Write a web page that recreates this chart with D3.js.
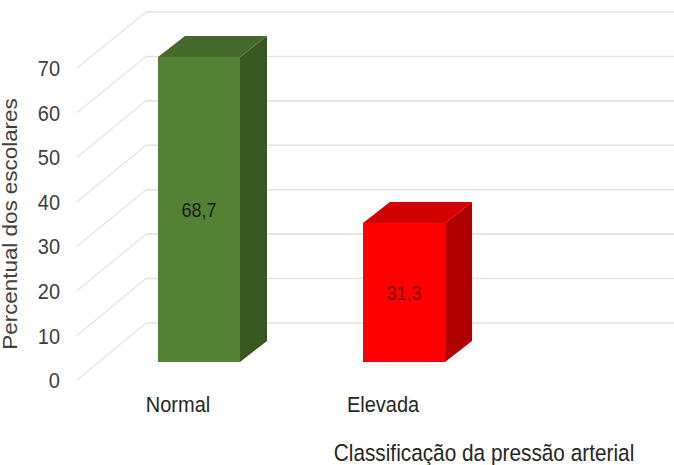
<!DOCTYPE html>
<html>
<head>
<meta charset="utf-8">
<script src="https://cdnjs.cloudflare.com/ajax/libs/d3/7.8.5/d3.min.js"></script>
<style>
	body { margin: 0; background: #fff; }
	svg { display: block; }
	text { font-family: "Liberation Sans", Arial, sans-serif; }
</style>
</head>
<body>
<svg class="chart"></svg>
<script>
/* 3D bar chart: classificação da pressão arterial */

var categories = ["Normal", "Elevada"];
var values = [68.7, 31.3];
var valueLabels = ["68,7", "31,3"];
var tickValues = [0, 10, 20, 30, 40, 50, 60, 70];
var xTitle = "Classificação da pressão arterial";
var yTitle = "Percentual dos escolares";

function drawChart(areaID) {

	var width = 674,
		height = 465;

	var colors = {
		Normal: {front: "#548235", top: "#45692c", side: "#385723", text: "#1a1a1a"},
		Elevada: {front: "#ff0000", top: "#d20000", side: "#b00000", text: "#8a0000"}
	};

	// text in the picture is a bit stretched vertically
	var stretch = 1.12;

	// scales: front edge of the side wall, back wall, front plane of bars
	var yFront = d3.scaleLinear().domain([0, 70]).range([380, 68]);
	var yBack = d3.scaleLinear().domain([0, 70]).range([323, 12]);
	var yBar = d3.scaleLinear().domain([0, 70]).range([362, 51.2]);

	var x = d3.scaleBand()
		.domain(categories)
		.range([55.5, 547.5])
		.paddingInner(0.6)
		.paddingOuter(0.5);

	var wallLeft = 146, wallFront = 77;
	var depth = {dx: 27, dy: -21};

	var svg = d3.select("." + areaID)
		.attr("width", width)
		.attr("height", height);

	// Back wall gridlines
	svg.append("g")
		.selectAll("line")
		.data(tickValues)
	  .enter().append("line")
		.attr("x1", wallLeft)
		.attr("x2", width)
		.attr("y1", function(d) { return yBack(d); })
		.attr("y2", function(d) { return yBack(d); })
		.attr("stroke", "#e2e2e2")
		.attr("stroke-width", 1.6);

	// Side wall gridlines
	svg.append("g")
		.selectAll("line")
		.data(tickValues)
	  .enter().append("line")
		.attr("x1", wallFront)
		.attr("x2", wallLeft)
		.attr("y1", function(d) { return yFront(d); })
		.attr("y2", function(d) { return yBack(d); })
		.attr("stroke", "#e4e4e4")
		.attr("stroke-width", 1.3);

	// Tick labels
	svg.append("g")
		.selectAll("text")
		.data(tickValues)
	  .enter().append("text")
		.attr("transform", function(d) {
			return "translate(60," + yFront(d) + ") scale(1," + stretch + ")";
		})
		.attr("dy", "0.36em")
		.attr("text-anchor", "end")
		.attr("font-size", 20)
		.attr("fill", "#404040")
		.text(function(d) { return d; });

	var data = categories.map(function(c, i) {
		return {name: c, value: values[i], label: valueLabels[i]};
	});

	var bars = svg.selectAll(".bar")
		.data(data)
	  .enter().append("g")
		.attr("class", "bar");

	// side face
	bars.append("path")
		.attr("fill", function(d) { return colors[d.name].side; })
		.attr("d", function(d) {
			var x1 = x(d.name) + x.bandwidth();
			var y0 = yBar(0), y1 = yBar(d.value);
			return "M" + x1 + "," + y0 +
				"L" + (x1 + depth.dx) + "," + (y0 + depth.dy) +
				"L" + (x1 + depth.dx) + "," + (y1 + depth.dy) +
				"L" + x1 + "," + y1 + "Z";
		});

	// top face
	bars.append("path")
		.attr("fill", function(d) { return colors[d.name].top; })
		.attr("d", function(d) {
			var x0 = x(d.name), x1 = x0 + x.bandwidth();
			var y1 = yBar(d.value);
			return "M" + x0 + "," + y1 +
				"L" + x1 + "," + y1 +
				"L" + (x1 + depth.dx) + "," + (y1 + depth.dy) +
				"L" + (x0 + depth.dx) + "," + (y1 + depth.dy) + "Z";
		});

	// front face
	bars.append("rect")
		.attr("x", function(d) { return x(d.name); })
		.attr("y", function(d) { return yBar(d.value); })
		.attr("width", x.bandwidth())
		.attr("height", function(d) { return yBar(0) - yBar(d.value); })
		.attr("fill", function(d) { return colors[d.name].front; });

	// value labels
	bars.append("text")
		.attr("transform", function(d) {
			var cx = x(d.name) + x.bandwidth() / 2;
			var cy = (yBar(0) + yBar(d.value)) / 2;
			return "translate(" + cx + "," + cy + ") scale(1," + stretch + ")";
		})
		.attr("dy", "0.36em")
		.attr("text-anchor", "middle")
		.attr("font-size", 18)
		.attr("fill", function(d) { return colors[d.name].text; })
		.text(function(d) { return d.label; });

	// Category labels
	svg.append("g")
		.selectAll("text")
		.data(categories)
	  .enter().append("text")
		.attr("transform", function(d) {
			var cx = x(d) + x.bandwidth() / 2 - 21;
			return "translate(" + cx + ",412) scale(1," + stretch + ")";
		})
		.attr("text-anchor", "middle")
		.attr("font-size", 20)
		.attr("fill", "#262626")
		.text(function(d) { return d; });

	// Axis titles
	svg.append("text")
		.attr("transform", "translate(484,461) scale(1," + stretch + ")")
		.attr("text-anchor", "middle")
		.attr("font-size", 20.8)
		.attr("fill", "#262626")
		.text(xTitle);

	svg.append("text")
		.attr("transform", "translate(17,224) scale(1," + stretch + ") rotate(-90)")
		.attr("text-anchor", "middle")
		.attr("font-size", 20)
		.attr("fill", "#404040")
		.text(yTitle);
}

drawChart("chart");
</script>
</body>
</html>
